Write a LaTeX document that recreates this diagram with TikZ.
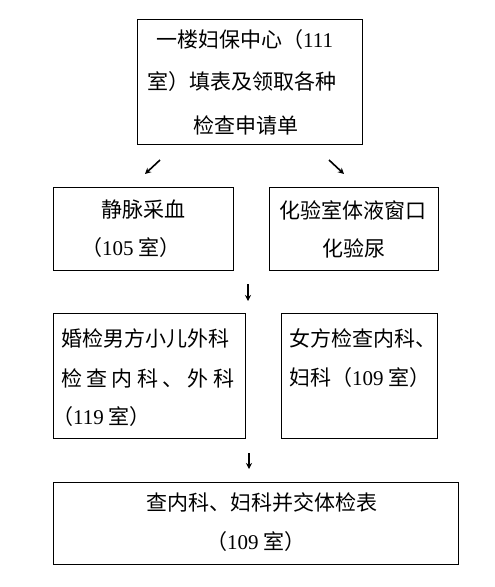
\documentclass[tikz,border=0pt]{standalone}
\usepackage{fontspec}
\setmainfont{Liberation Serif}
\newfontfamily\cjk{Noto Sans CJK SC}
\usetikzlibrary{arrows.meta}
\newcommand\dg[1]{{\rmfamily #1}}
\tikzset{
  box/.style={draw=black, line width=0.8pt},
  txt/.style={font=\fontsize{21}{21}\cjk, inner sep=0pt, anchor=west, text=black},
  arr/.style={line width=1.6pt, -{Stealth[length=6pt,width=6pt]}},
}
\begin{document}
\begin{tikzpicture}[x=1pt,y=-1pt]
\useasboundingbox[fill=white] (0,0) rectangle (495,587);
% boxes
\node[box, minimum width=225pt, minimum height=125pt, anchor=north west] (top) at (137,19) {};
\node[box, minimum width=180pt, minimum height=83pt, anchor=north west] (A) at (53,187) {};
\node[box, minimum width=169pt, minimum height=83pt, anchor=north west] (B) at (269,187) {};
\node[box, minimum width=192pt, minimum height=125pt, anchor=north west] (C) at (53,313) {};
\node[box, minimum width=156pt, minimum height=125pt, anchor=north west] (D) at (281,313) {};
\node[box, minimum width=405pt, minimum height=82pt, anchor=north west] (E) at (53,482) {};
% texts
\node[txt] (t1) at (156,40) {一楼妇保中心（\dg{111}};
\node[txt] (t2) at (147,82) {室）填表及领取各种};
\node[txt] (t3) at (193,125) {检查申请单};
\node[txt] (a1) at (101,210) {静脉采血};
\node[txt] (a2) at (81,248) {（\dg{105} 室）};
\node[txt] (b1) at (279,210) {化验室体液窗口};
\node[txt] (b2) at (322,248) {化验尿};
\node[txt] (c1) at (61,338) {婚检男方小儿外科};
\node[txt] (c2) at (61,378) {\makebox[173pt][s]{检\hfill 查\hfill 内\hfill 科\hfill 、\hfill 外\hfill 科}};
\node[txt] (c3) at (52,417) {（\dg{119} 室）};
\node[txt] (d1) at (289,338) {女方检查内科、};
\node[txt] (d2) at (289,378) {妇科（\dg{109} 室）};
\node[txt] (e1) at (146,502) {查内科、妇科并交体检表};
\node[txt] (e2) at (206,542) {（\dg{109} 室）};
% arrows
\coordinate (p1s) at (160,160); \coordinate (p1e) at (145,174);
\coordinate (p2s) at (329,160); \coordinate (p2e) at (344,174);
\coordinate (p3s) at (248,284); \coordinate (p3e) at (248,301);
\coordinate (p4s) at (249,453); \coordinate (p4e) at (249,469);
\draw[arr] (p1s) -- (p1e);
\draw[arr] (p2s) -- (p2e);
\draw[arr] (p3s) -- (p3e);
\draw[arr] (p4s) -- (p4e);
\end{tikzpicture}
\end{document}
